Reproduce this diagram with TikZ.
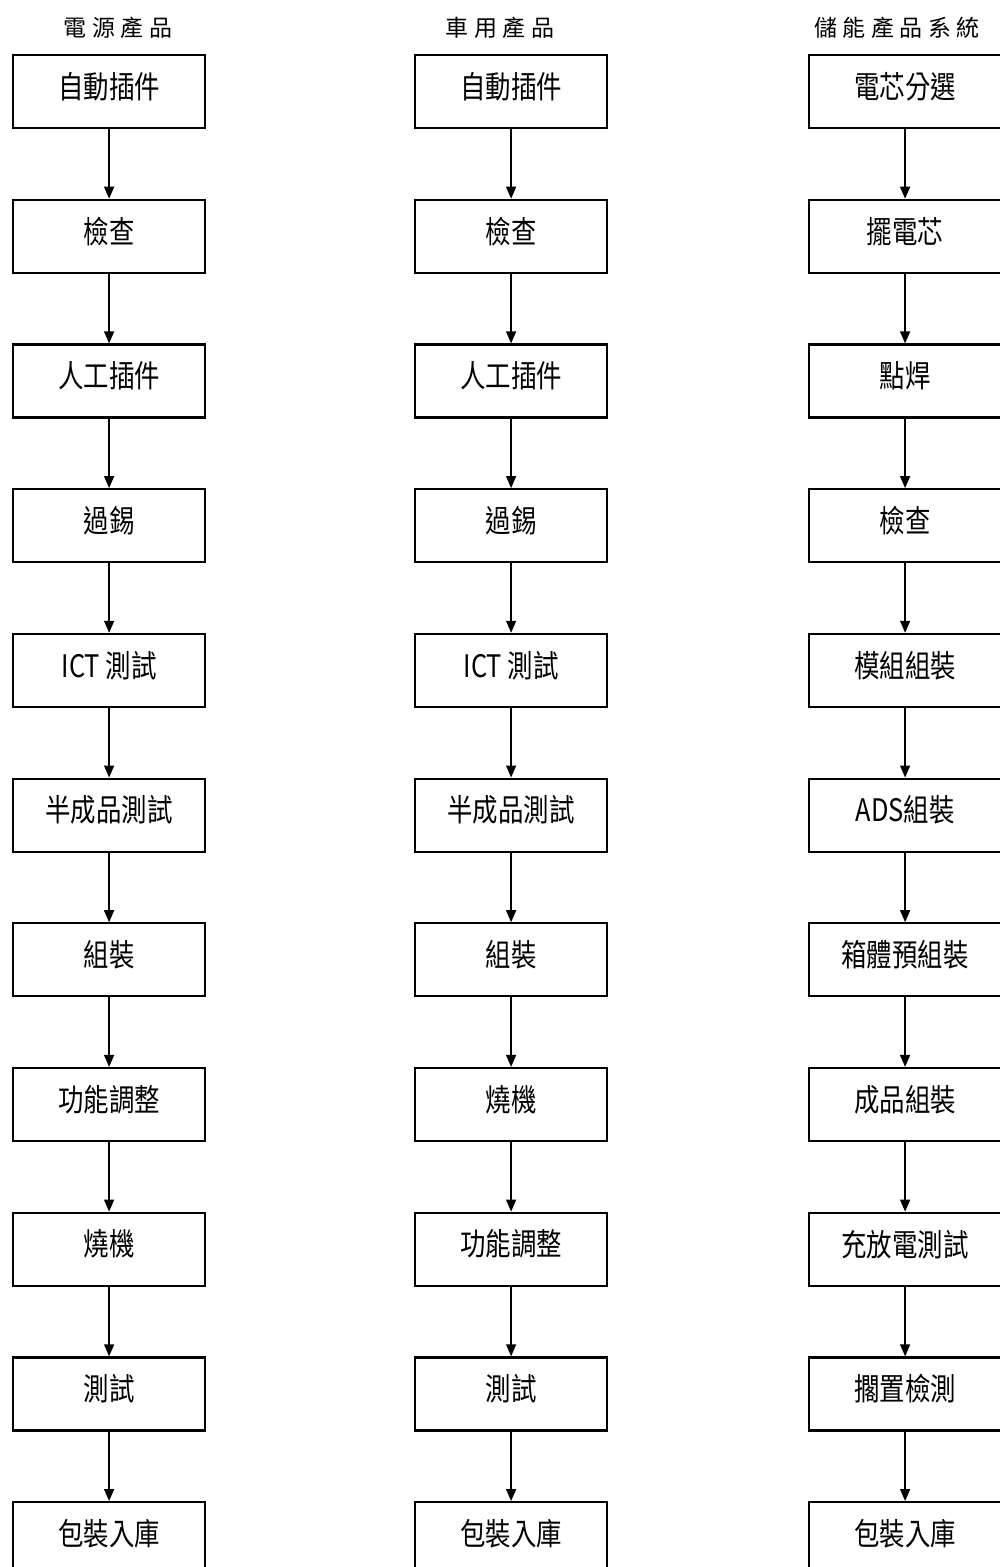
\documentclass[tikz,border=0pt]{standalone}
\usepackage{fontspec}
\newfontfamily\boxfont[FakeStretch=0.82]{Noto Sans CJK TC}
\newfontfamily\titlefont[LetterSpace=24]{Noto Sans CJK TC}
\usetikzlibrary{arrows.meta}
\newcommand{\flowcol}[3]{%
  \foreach \txt [count=\i from 0] in {#1} {
    \pgfmathsetmacro{\ty}{54+144.7*\i}
    \node[stepbox] (#3\i) at (#2,\ty) {};
    \node[steptext] (#3\i t) at ([yshift=5pt]#3\i.center) {\txt};
  }
  \foreach \i [evaluate=\i as \j using int(\i+1)] in {0,...,9}{
    \draw[arr] (#3\i.south) -- (#3\j.north);
  }
}
\begin{document}
\begin{tikzpicture}[x=1pt,y=-1pt,
  stepbox/.style={draw,line width=2.2pt,minimum width=192pt,minimum height=73pt,inner sep=0pt,anchor=north west},
  steptext/.style={inner sep=0pt,font=\boxfont\fontsize{31}{31}\selectfont},
  coltitle/.style={inner sep=0pt,font=\titlefont\fontsize{23}{23}\selectfont},
  arr/.style={line width=1.4pt,-{Triangle[length=12pt,width=10pt]}}
]
\useasboundingbox (0,0) rectangle (1000,1567);
\fill[white] (0,0) rectangle (1000,1567);

\node[coltitle] (t1) at (118,28) {電源產品};
\node[coltitle] (t2) at (500,28) {車用產品};
\node[coltitle] (t3) at (897,28) {儲能產品系統};

\flowcol{自動插件,檢查,人工插件,過錫,ICT 測試,半成品測試,組裝,功能調整,燒機,測試,包裝入庫}{12}{a}
\flowcol{自動插件,檢查,人工插件,過錫,ICT 測試,半成品測試,組裝,燒機,功能調整,測試,包裝入庫}{414}{b}
\flowcol{電芯分選,擺電芯,點焊,檢查,模組組裝,ADS組裝,箱體預組裝,成品組裝,充放電測試,擱置檢測,包裝入庫}{808}{c}
\end{tikzpicture}
\end{document}
